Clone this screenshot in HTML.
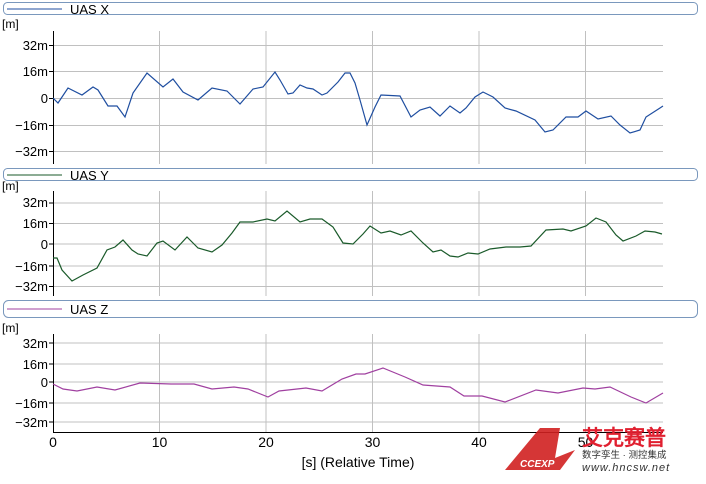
<!DOCTYPE html>
<html><head><meta charset="utf-8"><style>
html,body{margin:0;padding:0;background:#fff;}
body{width:706px;height:479px;overflow:hidden;}
text{font-family:"Liberation Sans","DejaVu Sans",sans-serif;}
</style></head><body>
<svg width="706" height="479" viewBox="0 0 706 479" xmlns="http://www.w3.org/2000/svg">
<g stroke="#c0c0c0" stroke-width="1" fill="none">
<!-- panel1 grid -->
<path d="M53 45.5H663M53 71.5H663M53 98.5H663M53 125.5H663M53 151.5H663"/>
<path d="M159.5 31V164M266 31V164M372.5 31V164M479 31V164M585.5 31V164"/>
<!-- panel2 grid -->
<path d="M53 203H663M53 223.5H663M53 244H663M53 266H663M53 286.5H663"/>
<path d="M159.5 191V296M266 191V296M372.5 191V296M479 191V296M585.5 191V296"/>
<!-- panel3 grid -->
<path d="M53 343H663M53 364H663M53 382H663M53 403H663M53 422H663"/>
<path d="M159.5 334V432M266 334V432M372.5 334V432M479 334V432M585.5 334V432"/>
</g>
<!-- legends -->
<g fill="none" stroke="#7a98bd" stroke-width="1">
<rect x="3.5" y="2.5" width="694" height="12" rx="4"/>
<rect x="3.5" y="168.5" width="694" height="12" rx="4"/>
<rect x="3.5" y="300.5" width="694" height="17" rx="5"/>
</g>
<line x1="7" y1="9" x2="62" y2="9" stroke="#1f4ea0"/>
<line x1="7" y1="175" x2="62" y2="175" stroke="#1a5a2a"/>
<line x1="7" y1="309" x2="62" y2="309" stroke="#a040a0"/>
<g font-size="13" fill="#000">
<text x="70" y="14">UAS X</text>
<text x="70" y="180">UAS Y</text>
<text x="70" y="314">UAS Z</text>
</g>
<g font-size="12" fill="#000">
<text x="2" y="28">[m]</text>
<text x="2" y="190">[m]</text>
<text x="2" y="332">[m]</text>
</g>
<!-- axes -->
<g stroke="#000" stroke-width="1" fill="none">
<path d="M53.5 31V164M53.5 191V296M53.5 334V432M53 432.5H663"/>
<path d="M49 45.5H53M49 71.5H53M49 98.5H53M49 125.5H53M49 151.5H53"/>
<path d="M49 203H53M49 223.5H53M49 244H53M49 266H53M49 286.5H53"/>
<path d="M49 343H53M49 364H53M49 382H53M49 403H53M49 422H53"/>
</g>
<g font-size="13" fill="#000" text-anchor="end">
<text x="48" y="50">32m</text><text x="48" y="76">16m</text><text x="48" y="103">0</text><text x="48" y="130">−16m</text><text x="48" y="156">−32m</text>
<text x="48" y="207">32m</text><text x="48" y="228">16m</text><text x="48" y="249">0</text><text x="48" y="271">−16m</text><text x="48" y="291">−32m</text>
<text x="48" y="348">32m</text><text x="48" y="369">16m</text><text x="48" y="387">0</text><text x="48" y="408">−16m</text><text x="48" y="427">−32m</text>
</g>
<g font-size="14" fill="#000" text-anchor="middle">
<text x="53" y="447">0</text><text x="159.5" y="447">10</text><text x="266" y="447">20</text><text x="372.5" y="447">30</text><text x="479" y="447">40</text><text x="585.5" y="447">50</text>
<text x="358" y="467">[s] (Relative Time)</text>
</g>
<!-- series -->
<polyline fill="none" stroke="#1f4ea0" stroke-width="1.2" points="53,98 58,103 68,88 82,95 93,87 98,90 108,106 117,106 125,117 133,93 147,73 163,87 173,79 183,92 198,100 212,88 227,91 240,104 253,89 263,87 275,72 280,80 288,94 293,93 300,85 307,88 313,89 322,95 327,93 338,82 345,73 350,73 355,83 360,100 367,125 375,107 381,95 400,96 411,117 420,110 430,107 440,116 450,106 460,113 466,108 475,97 483,92 493,97 505,108 516,111 535,120 545,132 553,130 566,117 578,117 586,111 598,119 611,116 620,125 630,133 640,130 646,117 660,108 663,106"/>
<polyline fill="none" stroke="#1a5a2a" stroke-width="1.2" points="53,258 57,258 62,270 72,281 83,275 97,268 107,250 115,247 123,240 132,250 138,254 147,256 157,243 163,241 175,250 187,237 198,248 212,252 222,245 232,233 240,222 253,222 267,219 275,221 287,211 300,222 310,219 322,219 333,227 343,243 353,244 363,234 370,226 381,233 390,231 401,235 411,231 423,243 433,252 441,250 450,256 458,257 468,253 478,254 490,249 506,247 520,247 531,246 546,230 563,229 571,231 586,226 596,218 606,222 616,235 623,241 636,236 645,231 655,232 662,234"/>
<polyline fill="none" stroke="#a040a0" stroke-width="1.2" points="53,384 63,389 77,391 97,387 115,390 140,383 171,384 194,384 212,389 234,387 248,389 268,397 279,391 306,388 322,391 342,379 356,374 365,374 383,368 405,377 423,385 450,387 464,396 482,396 505,402 536,390 558,393 583,388 595,389 610,387 631,397 646,403 663,393"/>
<!-- watermark -->
<polygon points="505,470 540,428 560,428 555,458 575,450 560,470" fill="#d02020" opacity="0.9"/>
<text x="520" y="467" font-size="10" font-style="italic" font-weight="bold" fill="#fff">CCEXP</text>
<text x="582" y="445" font-size="21" font-weight="bold" fill="#e02030" font-family="'Liberation Sans','Noto Sans CJK SC',sans-serif">艾克赛普</text>
<text x="582" y="458" font-size="9.5" fill="#333" font-family="'Liberation Sans','Noto Sans CJK SC',sans-serif">数字孪生 · 测控集成</text>
<text x="582" y="471" font-size="11" font-style="italic" fill="#333" letter-spacing="1">www.hncsw.net</text>
</svg>
</body></html>
